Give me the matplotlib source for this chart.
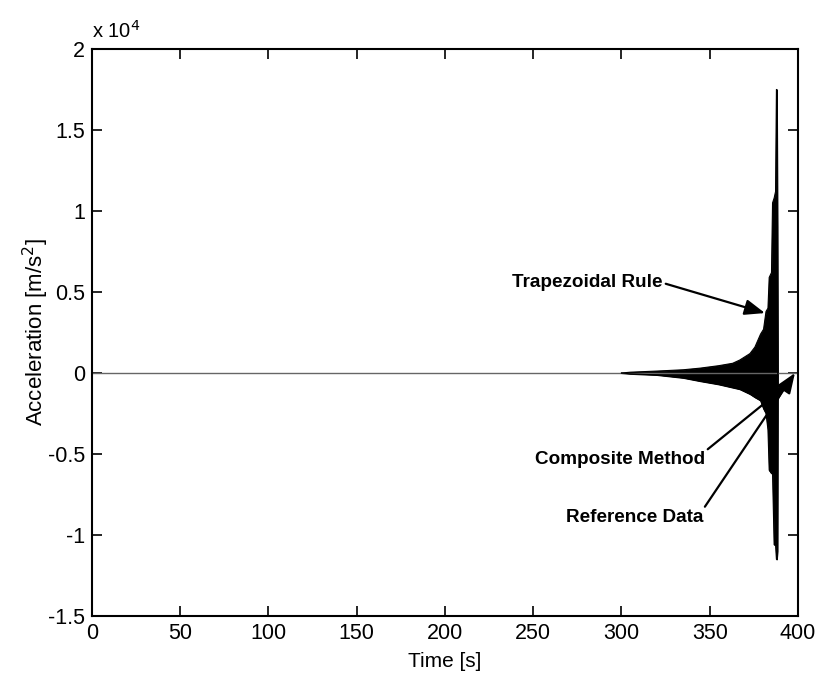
import numpy as np
import matplotlib.pyplot as plt
from matplotlib.ticker import FuncFormatter

# time axis of the flat reference / composite solutions (s)
t_flat = [0, 400]
a_flat = [0, 0]

# envelope of the unstable trapezoidal-rule response, acceleration in m/s^2
t_env = [300, 305, 320, 335, 344.5, 355, 363, 367, 372.8, 375.6, 378.8,
         380.5, 381.9, 383.0, 383.7, 385.0, 385.6, 386.5, 387.3, 387.8,
         388.0, 388.4, 388.6]
a_upper = [0, 50, 120, 200, 300, 450, 600, 800, 1200, 1600, 2400,
           2700, 3800, 4000, 5900, 6200, 10500, 10800, 11200, 17500,
           17500, 9000, 0]
a_lower = [0, -50, -120, -300, -500, -700, -900, -1000, -1300, -1500, -1700,
           -2200, -2500, -3500, -6000, -6200, -6200, -10600, -10600, -11500,
           -11500, -11000, 0]

x_ticks = [0, 50, 100, 150, 200, 250, 300, 350, 400]
y_ticks = [-15000, -10000, -5000, 0, 5000, 10000, 15000, 20000]

plt.rcParams['font.family'] = ['Liberation Sans', 'DejaVu Sans']

fig = plt.figure(figsize=(8.17, 6.75), dpi=100)
ax = fig.add_axes([0.1126, 0.0874, 0.8641, 0.84])

ax.plot(t_flat, a_flat, color='#666666', lw=1.0)
ax.fill_between(t_env, a_lower, a_upper, color='black', lw=0.8)
ax.plot(t_env, a_upper, color='black', lw=0.8)
ax.plot(t_env, a_lower, color='black', lw=0.8)

ax.set_xlim(0, 400)
ax.set_ylim(-15000, 20000)
ax.set_xticks(x_ticks)
ax.set_yticks(y_ticks)
ax.yaxis.set_major_formatter(FuncFormatter(lambda v, p: '%g' % (v / 1e4)))
ax.tick_params(direction='in', length=7, width=1.2, top=True, right=True,
               labelsize=15.5, pad=5)
for s in ax.spines.values():
    s.set_linewidth(1.5)

ax.text(0.0, 1.012, r'x 10$^4$', transform=ax.transAxes, fontsize=14.5,
        ha='left', va='bottom')

ax.set_xlabel('Time [s]', fontsize=15, labelpad=6)
ax.set_ylabel('Acceleration [m/s$^2$]', fontsize=16, labelpad=-2)

arrow = dict(arrowstyle='-|>,head_length=0.9,head_width=0.35', color='black',
             lw=1.6, shrinkA=0, shrinkB=0)
txt = dict(ha='right', va='center', fontsize=13.6, fontweight='bold')
ax.annotate('Trapezoidal Rule', xy=(381.3, 3700), xytext=(323.5, 5560),
            arrowprops=dict(arrow, relpos=(1, 0.5)), **txt)
ax.annotate('Composite Method', xy=(393.8, -740), xytext=(347.3, -5370),
            arrowprops=dict(arrow, relpos=(1, 1)), **txt)
ax.annotate('Reference Data', xy=(398.3, 0), xytext=(346.2, -8950),
            arrowprops=dict(arrow, relpos=(1, 1)), **txt)

fig.savefig('out.png', dpi=100)
